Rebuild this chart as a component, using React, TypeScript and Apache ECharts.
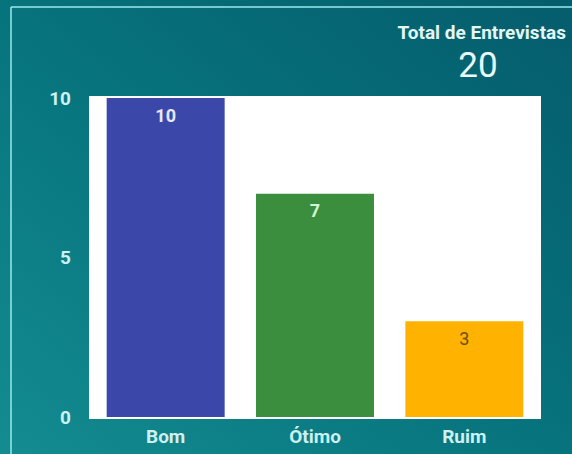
import React, { useEffect, useRef } from "react";
import * as echarts from "echarts";

const categories = ["Bom", "Ótimo", "Ruim"];
const values = [10, 7, 3];
const barColors = ["#3c48a9", "#3a8e3d", "#ffb300"];
const labelColors = ["#e4e8f8", "#d4f5d4", "#6b5010"];
const labelWeights = ["bold", "bold", "normal"];
const totalTitle = "Total de Entrevistas";
const totalValue = 20;
const yTicks = { min: 0, max: 10, interval: 5 };

export default function App() {
  const ref = useRef<HTMLDivElement>(null);
  useEffect(() => {
    if (!ref.current) return;
    const chart = echarts.init(ref.current, null, { renderer: "svg" });
    const font = "Roboto, 'Noto Sans', sans-serif";
    chart.setOption({
      animation: false,
      backgroundColor: {
        type: "linear",
        x: 0,
        y: 1,
        x2: 1,
        y2: 0,
        colorStops: [
          { offset: 0, color: "#138c90" },
          { offset: 0.5, color: "#07737c" },
          { offset: 1, color: "#055c6c" },
        ],
      },
      textStyle: { fontFamily: font },
      grid: {
        left: 91,
        right: 33,
        top: 98,
        bottom: 37,
        show: true,
        backgroundColor: "#ffffff",
        borderColor: "#ffffff",
        borderWidth: 4,
      },
      xAxis: {
        type: "category",
        data: categories,
        axisLine: { show: false },
        axisTick: { show: false },
        axisLabel: {
          color: "#cdf0f1",
          fontSize: 19,
          fontWeight: "bold",
          margin: 10,
          fontFamily: font,
        },
      },
      yAxis: {
        type: "value",
        min: yTicks.min,
        max: yTicks.max,
        interval: yTicks.interval,
        splitLine: { show: false },
        axisLine: { show: false },
        axisTick: { show: false },
        axisLabel: {
          color: "#cdf0f1",
          fontSize: 19,
          fontWeight: "bold",
          margin: 20,
          fontFamily: font,
        },
      },
      series: [
        {
          type: "bar",
          barCategoryGap: "21%",
          data: values.map((v, i) => ({
            value: v,
            itemStyle: { color: barColors[i] },
            label: { color: labelColors[i], fontWeight: labelWeights[i] },
          })),
          label: {
            show: true,
            position: "insideTop",
            distance: 8,
            fontSize: 18,
            fontFamily: font,
          },
        },
      ],
      graphic: [
        {
          type: "line",
          shape: { x1: 11, y1: 7, x2: 572, y2: 7 },
          style: { stroke: "#9aeaec", lineWidth: 1.5 },
        },
        {
          type: "line",
          shape: { x1: 11, y1: 7, x2: 11, y2: 454 },
          style: { stroke: "#9aeaec", lineWidth: 1.5 },
        },
        {
          type: "text",
          x: 566,
          y: 32,
          style: {
            text: totalTitle,
            fill: "#e2f6f6",
            font: `bold 19px ${font}`,
            textAlign: "right",
            textVerticalAlign: "middle",
          },
        },
        {
          type: "text",
          x: 478,
          y: 65,
          style: {
            text: String(totalValue),
            fill: "#eafbfb",
            font: `35px ${font}`,
            textAlign: "center",
            textVerticalAlign: "middle",
          },
        },
      ],
    });
    return () => chart.dispose();
  }, []);
  return (
    <div
      ref={ref}
      style={{ position: "fixed", left: 0, top: 0, width: 572, height: 454 }}
    />
  );
}
